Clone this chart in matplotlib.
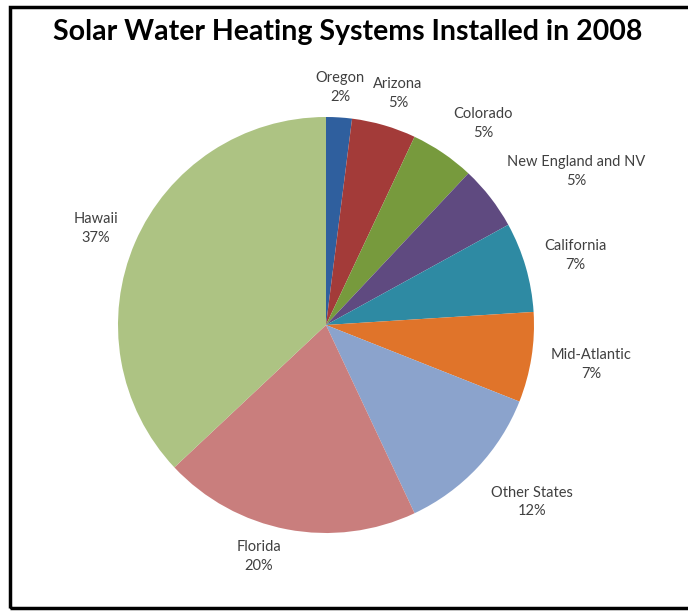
import matplotlib.pyplot as plt
from matplotlib.patches import Rectangle

# data, clockwise from 12 o'clock
regions = ['Oregon', 'Arizona', 'Colorado', 'New England and NV', 'California',
           'Mid-Atlantic', 'Other States', 'Florida', 'Hawaii']
shares = [2, 5, 5, 5, 7, 7, 12, 20, 37]

colors = ['#2F5F9E', '#A33B39', '#779A3D', '#5F4A80', '#2E8AA3',
          '#E0742A', '#8BA3CC', '#C97E7D', '#ADC383']
# label centres, in pie radii from the centre
label_xy = [(0.067, 1.144), (0.346, 1.111), (0.755, 0.971), (1.202, 0.740), (1.197, 0.332),
            (1.274, -0.188), (0.990, -0.851), (-0.322, -1.115), (-1.106, 0.466)]

plt.rcParams['font.family'] = ['Lato', 'DejaVu Sans']

fig = plt.figure(figsize=(6.88, 6.11), dpi=100)
ax = fig.add_axes([0, 0, 1, 1])

wedges, _ = ax.pie(shares, colors=colors, startangle=90, counterclock=False,
                   radius=1, wedgeprops=dict(linewidth=0))

# pie centre at (326, 325) px, radius 208 px
ax.set_xlim(-326 / 208, (688 - 326) / 208)
ax.set_ylim(-(611 - 325) / 208, 325 / 208)
ax.axis('off')

for name, val, (x, y) in zip(regions, shares, label_xy):
    ax.text(x, y, f'{name}\n{val}%', ha='center', va='center',
            fontsize=10.5, color='#404040', linespacing=1.45)

fig.text(348 / 688, 1 - 40 / 611, 'Solar Water Heating Systems Installed in 2008', ha='center',
         va='baseline', fontsize=20.5, fontweight='bold', color='black')

fig.patches.append(Rectangle((10 / 688, 1 - 608 / 611), 1.0, 601 / 611, transform=fig.transFigure,
                             fill=False, edgecolor='black', linewidth=2.5))

fig.savefig('out.png', dpi=100)
